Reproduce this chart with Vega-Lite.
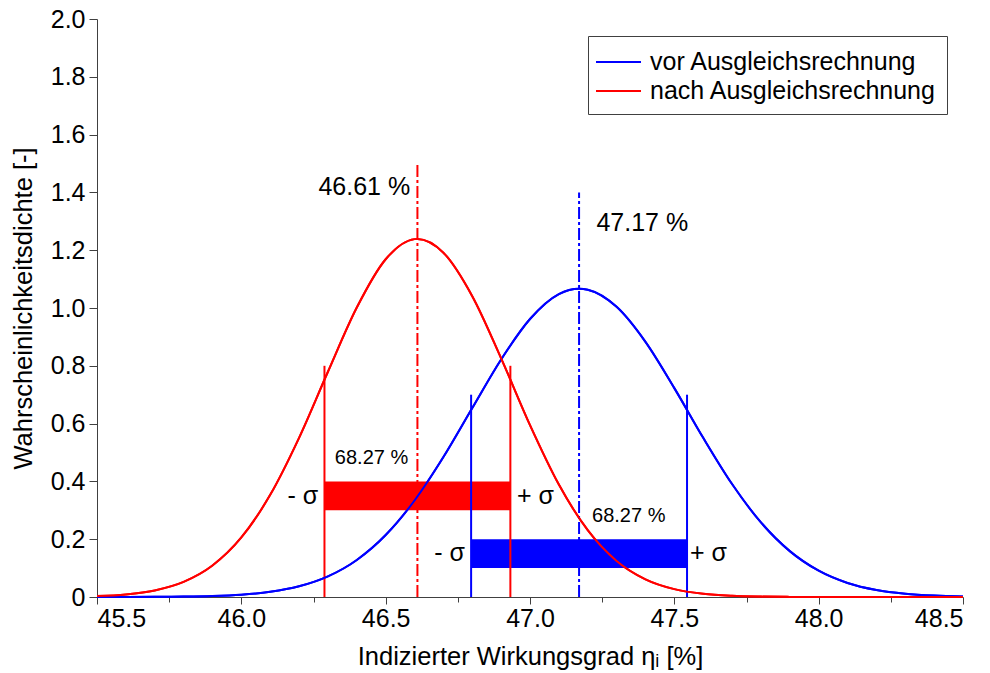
{
  "$schema": "https://vega.github.io/schema/vega-lite/v6.json",
  "width": 866,
  "height": 578,
  "autosize": "none",
  "padding": {"left": 97, "top": 19, "right": 27, "bottom": 76},
  "background": "white",
  "config": {
    "view": {"stroke": null},
    "font": "Liberation Sans",
    "axis": {
      "grid": false,
      "domainColor": "#404040",
      "tickColor": "#404040",
      "domainWidth": 1,
      "tickWidth": 1,
      "labelColor": "black",
      "titleColor": "black",
      "labelFontSize": 25,
      "titleFontSize": 25.5,
      "titleFontWeight": "normal",
      "labelOverlap": false,
      "labelFont": "Liberation Sans",
      "titleFont": "Liberation Sans"
    },
    "legend": {
      "labelFont": "Liberation Sans",
      "labelFontSize": 25,
      "labelLimit": 500,
      "labelColor": "black",
      "labelOffset": 20,
      "symbolType": "M-1.2,0H1.8",
      "symbolSize": 900,
      "symbolStrokeWidth": 2,
      "strokeColor": "#404040",
      "fillColor": "white",
      "padding": 10,
      "rowPadding": 0,
      "orient": "none",
      "legendX": 491,
      "legendY": 17
    }
  },
  "datasets": {
    "curves": [
      {"x": 45.5, "y": 0.00005, "series": "vor Ausgleichsrechnung"},
      {"x": 45.6, "y": 0.00016, "series": "vor Ausgleichsrechnung"},
      {"x": 45.7, "y": 0.00047, "series": "vor Ausgleichsrechnung"},
      {"x": 45.8, "y": 0.0013, "series": "vor Ausgleichsrechnung"},
      {"x": 45.9, "y": 0.00334, "series": "vor Ausgleichsrechnung"},
      {"x": 46.0, "y": 0.008, "series": "vor Ausgleichsrechnung"},
      {"x": 46.1, "y": 0.01781, "series": "vor Ausgleichsrechnung"},
      {"x": 46.2, "y": 0.03693, "series": "vor Ausgleichsrechnung"},
      {"x": 46.3, "y": 0.07129, "series": "vor Ausgleichsrechnung"},
      {"x": 46.4, "y": 0.12812, "series": "vor Ausgleichsrechnung"},
      {"x": 46.5, "y": 0.21437, "series": "vor Ausgleichsrechnung"},
      {"x": 46.6, "y": 0.33393, "series": "vor Ausgleichsrechnung"},
      {"x": 46.7, "y": 0.4843, "series": "vor Ausgleichsrechnung"},
      {"x": 46.8, "y": 0.65391, "series": "vor Ausgleichsrechnung"},
      {"x": 46.9, "y": 0.822, "series": "vor Ausgleichsrechnung"},
      {"x": 47.0, "y": 0.962, "series": "vor Ausgleichsrechnung"},
      {"x": 47.1, "y": 1.04818, "series": "vor Ausgleichsrechnung"},
      {"x": 47.17, "y": 1.0667, "series": "vor Ausgleichsrechnung"},
      {"x": 47.2, "y": 1.06327, "series": "vor Ausgleichsrechnung"},
      {"x": 47.3, "y": 1.00417, "series": "vor Ausgleichsrechnung"},
      {"x": 47.4, "y": 0.88292, "series": "vor Ausgleichsrechnung"},
      {"x": 47.5, "y": 0.72274, "series": "vor Ausgleichsrechnung"},
      {"x": 47.6, "y": 0.55081, "series": "vor Ausgleichsrechnung"},
      {"x": 47.7, "y": 0.39081, "series": "vor Ausgleichsrechnung"},
      {"x": 47.8, "y": 0.25816, "series": "vor Ausgleichsrechnung"},
      {"x": 47.9, "y": 0.15877, "series": "vor Ausgleichsrechnung"},
      {"x": 48.0, "y": 0.0909, "series": "vor Ausgleichsrechnung"},
      {"x": 48.1, "y": 0.04846, "series": "vor Ausgleichsrechnung"},
      {"x": 48.2, "y": 0.02405, "series": "vor Ausgleichsrechnung"},
      {"x": 48.3, "y": 0.01111, "series": "vor Ausgleichsrechnung"},
      {"x": 48.4, "y": 0.00478, "series": "vor Ausgleichsrechnung"},
      {"x": 48.5, "y": 0.00191, "series": "vor Ausgleichsrechnung"},
      {"x": 45.5, "y": 0.00326, "series": "nach Ausgleichsrechnung"},
      {"x": 45.6, "y": 0.00905, "series": "nach Ausgleichsrechnung"},
      {"x": 45.7, "y": 0.02284, "series": "nach Ausgleichsrechnung"},
      {"x": 45.8, "y": 0.05236, "series": "nach Ausgleichsrechnung"},
      {"x": 45.9, "y": 0.10896, "series": "nach Ausgleichsrechnung"},
      {"x": 46.0, "y": 0.20594, "series": "nach Ausgleichsrechnung"},
      {"x": 46.1, "y": 0.35343, "series": "nach Ausgleichsrechnung"},
      {"x": 46.2, "y": 0.55078, "series": "nach Ausgleichsrechnung"},
      {"x": 46.3, "y": 0.77942, "series": "nach Ausgleichsrechnung"},
      {"x": 46.4, "y": 1.00156, "series": "nach Ausgleichsrechnung"},
      {"x": 46.5, "y": 1.16868, "series": "nach Ausgleichsrechnung"},
      {"x": 46.6, "y": 1.2383, "series": "nach Ausgleichsrechnung"},
      {"x": 46.61, "y": 1.2389, "series": "nach Ausgleichsrechnung"},
      {"x": 46.7, "y": 1.19144, "series": "nach Ausgleichsrechnung"},
      {"x": 46.8, "y": 1.04095, "series": "nach Ausgleichsrechnung"},
      {"x": 46.9, "y": 0.82585, "series": "nach Ausgleichsrechnung"},
      {"x": 47.0, "y": 0.59496, "series": "nach Ausgleichsrechnung"},
      {"x": 47.1, "y": 0.38922, "series": "nach Ausgleichsrechnung"},
      {"x": 47.2, "y": 0.23121, "series": "nach Ausgleichsrechnung"},
      {"x": 47.3, "y": 0.12472, "series": "nach Ausgleichsrechnung"},
      {"x": 47.4, "y": 0.06109, "series": "nach Ausgleichsrechnung"},
      {"x": 47.5, "y": 0.02717, "series": "nach Ausgleichsrechnung"},
      {"x": 47.6, "y": 0.01098, "series": "nach Ausgleichsrechnung"},
      {"x": 47.7, "y": 0.00403, "series": "nach Ausgleichsrechnung"},
      {"x": 47.8, "y": 0.00134, "series": "nach Ausgleichsrechnung"},
      {"x": 47.9, "y": 0.00041, "series": "nach Ausgleichsrechnung"},
      {"x": 48.0, "y": 0.00011, "series": "nach Ausgleichsrechnung"},
      {"x": 48.1, "y": 0.00003, "series": "nach Ausgleichsrechnung"},
      {"x": 48.2, "y": 0.00001, "series": "nach Ausgleichsrechnung"},
      {"x": 48.3, "y": 0, "series": "nach Ausgleichsrechnung"},
      {"x": 48.4, "y": 0, "series": "nach Ausgleichsrechnung"},
      {"x": 48.5, "y": 0, "series": "nach Ausgleichsrechnung"}
    ],
    "bars": [
      {"x1": 46.288, "x2": 46.932, "y1": 0.3, "y2": 0.4, "series": "nach Ausgleichsrechnung"},
      {"x1": 46.796, "x2": 47.544, "y1": 0.1, "y2": 0.2, "series": "vor Ausgleichsrechnung"}
    ],
    "sigmalines": [
      {"x": 46.288, "base": 0, "top": 0.8, "series": "nach Ausgleichsrechnung"},
      {"x": 46.932, "base": 0, "top": 0.8, "series": "nach Ausgleichsrechnung"},
      {"x": 46.796, "base": 0, "top": 0.7, "series": "vor Ausgleichsrechnung"},
      {"x": 47.544, "base": 0, "top": 0.7, "series": "vor Ausgleichsrechnung"}
    ],
    "meanlines": [
      {"x": 46.61, "base": 0, "top": 1.5, "series": "nach Ausgleichsrechnung"},
      {"x": 47.17, "base": 0, "top": 1.4, "series": "vor Ausgleichsrechnung"}
    ],
    "bigleft": [
      {"x": 47.23, "y": 1.295, "label": "47.17 %"},
      {"x": 46.955, "y": 0.349, "label": "+ σ"},
      {"x": 47.554, "y": 0.152, "label": "+ σ"}
    ],
    "bigright": [
      {"x": 46.585, "y": 1.42, "label": "46.61 %"},
      {"x": 46.266, "y": 0.349, "label": "- σ"},
      {"x": 46.775, "y": 0.152, "label": "- σ"}
    ],
    "small": [
      {"x": 46.324, "y": 0.481, "label": "68.27 %"},
      {"x": 47.215, "y": 0.28, "label": "68.27 %"}
    ]
  },
  "layer": [
    {
      "data": {"name": "curves"},
      "mark": {"type": "line", "strokeWidth": 2, "interpolate": "monotone"},
      "encoding": {
        "x": {
          "field": "x",
          "type": "quantitative",
          "scale": {"domain": [45.5, 48.5], "nice": false, "zero": false},
          "axis": {
            "title": "Indizierter Wirkungsgrad ηᵢ [%]",
            "values": [45.5, 45.75, 46.0, 46.25, 46.5, 46.75, 47.0, 47.25, 47.5, 47.75, 48.0, 48.25, 48.5],
            "labelExpr": "abs(datum.value*2 - round(datum.value*2)) < 0.001 ? format(datum.value, '.1f') : ''",
            "tickSize": {"condition": {"test": "abs(datum.value*2 - round(datum.value*2)) < 0.001", "value": 7}, "value": 5},
            "labelPadding": 2,
            "titlePadding": 13
          }
        },
        "y": {
          "field": "y",
          "type": "quantitative",
          "scale": {"domain": [0, 2.0], "nice": false},
          "axis": {
            "title": "Wahrscheinlichkeitsdichte [-]",
            "values": [0, 0.1, 0.2, 0.3, 0.4, 0.5, 0.6, 0.7, 0.8, 0.9, 1.0, 1.1, 1.2, 1.3, 1.4, 1.5, 1.6, 1.7, 1.8, 1.9, 2.0],
            "labelExpr": "datum.value == 0 ? '0' : (abs(datum.value*5 - round(datum.value*5)) < 0.001 ? format(datum.value, '.1f') : '')",
            "tickSize": {"condition": {"test": "abs(datum.value*5 - round(datum.value*5)) < 0.001", "value": 8}, "value": 4},
            "labelPadding": 4,
            "titlePadding": 14
          }
        },
        "color": {
          "field": "series",
          "type": "nominal",
          "scale": {"domain": ["vor Ausgleichsrechnung", "nach Ausgleichsrechnung"], "range": ["#0000ff", "#ff0000"]},
          "legend": {"title": null}
        }
      }
    },
    {
      "data": {"name": "bars"},
      "mark": {"type": "rect"},
      "encoding": {
        "x": {"field": "x1", "type": "quantitative"},
        "x2": {"field": "x2"},
        "y": {"field": "y1", "type": "quantitative"},
        "y2": {"field": "y2"},
        "color": {"field": "series", "type": "nominal"}
      }
    },
    {
      "data": {"name": "sigmalines"},
      "mark": {"type": "rule", "strokeWidth": 2},
      "encoding": {
        "x": {"field": "x", "type": "quantitative"},
        "y": {"field": "base", "type": "quantitative"},
        "y2": {"field": "top"},
        "color": {"field": "series", "type": "nominal"}
      }
    },
    {
      "data": {"name": "meanlines"},
      "mark": {"type": "rule", "strokeWidth": 2, "strokeDash": [12, 3, 3, 3]},
      "encoding": {
        "x": {"field": "x", "type": "quantitative"},
        "y": {"field": "base", "type": "quantitative"},
        "y2": {"field": "top"},
        "color": {"field": "series", "type": "nominal"}
      }
    },
    {
      "data": {"name": "curves"},
      "mark": {"type": "line", "strokeWidth": 2, "interpolate": "monotone"},
      "encoding": {
        "x": {"field": "x", "type": "quantitative"},
        "y": {"field": "y", "type": "quantitative"},
        "color": {"field": "series", "type": "nominal"}
      }
    },
    {
      "data": {"name": "bigleft"},
      "mark": {"type": "text", "align": "left", "baseline": "middle", "fontSize": 25, "color": "black"},
      "encoding": {
        "x": {"field": "x", "type": "quantitative"},
        "y": {"field": "y", "type": "quantitative"},
        "text": {"field": "label"}
      }
    },
    {
      "data": {"name": "bigright"},
      "mark": {"type": "text", "align": "right", "baseline": "middle", "fontSize": 25, "color": "black"},
      "encoding": {
        "x": {"field": "x", "type": "quantitative"},
        "y": {"field": "y", "type": "quantitative"},
        "text": {"field": "label"}
      }
    },
    {
      "data": {"name": "small"},
      "mark": {"type": "text", "align": "left", "baseline": "middle", "fontSize": 20, "color": "black"},
      "encoding": {
        "x": {"field": "x", "type": "quantitative"},
        "y": {"field": "y", "type": "quantitative"},
        "text": {"field": "label"}
      }
    }
  ]
}
